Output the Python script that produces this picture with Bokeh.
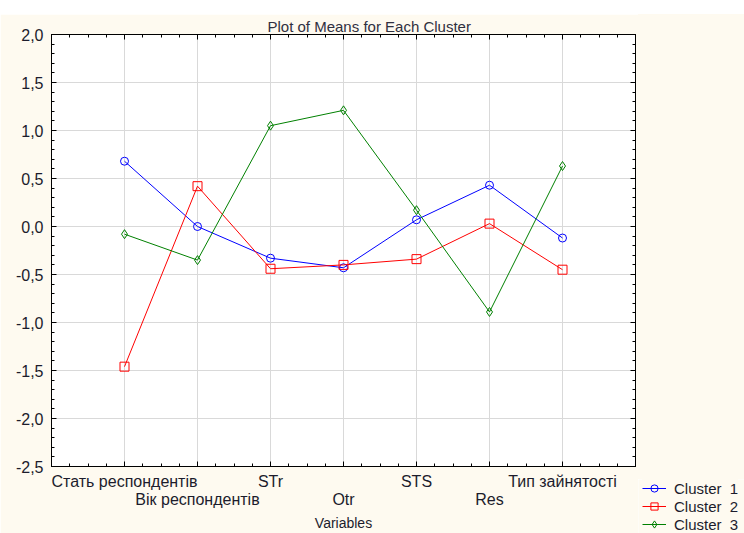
from bokeh.plotting import figure
from bokeh.models import (LinearAxis, FixedTicker, CustomJSTickFormatter, Legend,
                          LegendItem, Title, Range1d, Spacer)
from bokeh.layouts import column, row
from bokeh.embed import file_html
from bokeh.resources import INLINE

# ---------------- data ----------------
variables = ["Стать респондентів", "Вік респондентів", "STr", "Otr", "STS", "Res", "Тип зайнятості"]
cluster1 = [0.68, 0.00, -0.33, -0.43, 0.07, 0.43, -0.12]
cluster2 = [-1.46, 0.42, -0.44, -0.40, -0.34, 0.03, -0.45]
cluster3 = [-0.08, -0.35, 1.05, 1.21, 0.17, -0.89, 0.63]
series_names = ["Cluster  1", "Cluster  2", "Cluster  3"]
y_ticks = [-2.5, -2.0, -1.5, -1.0, -0.5, 0.0, 0.5, 1.0, 1.5, 2.0]
title_text = "Plot of Means for Each Cluster"
x_title = "Variables"

xs = list(range(1, len(variables) + 1))
odd_labels = [v if i % 2 == 0 else "" for i, v in enumerate(variables)]
even_labels = [v if i % 2 == 1 else "" for i, v in enumerate(variables)]

FONT = "Liberation Sans"
TXT = "#1c1c2c"
CREAM = "#FEFAF0"

p = figure(width=638, height=519, x_range=Range1d(0, len(variables) + 1),
           y_range=Range1d(-2.5, 2.0), output_backend="svg", toolbar_location=None,
           min_border_left=51, min_border_right=3, min_border_top=20, min_border_bottom=67)
p.border_fill_color = CREAM
p.background_fill_color = "white"
p.outline_line_color = "black"
p.outline_line_width = 1

p.title = Title(text=title_text, align="left", offset=216, standoff=0,
                text_font=FONT, text_font_size="15px", text_font_style="normal",
                text_color="#303040")

minor_x = [i * 0.25 for i in range(0, 4 * (len(variables) + 1) + 1)]
minor_y = [-2.5 + i * 0.1 for i in range(0, 46)]

def style_ticks(ax):
    ax.axis_line_color = "black"
    ax.major_tick_in = 5
    ax.major_tick_out = 0
    ax.minor_tick_in = 3
    ax.minor_tick_out = 0
    ax.major_tick_line_color = "black"
    ax.minor_tick_line_color = "black"

# x axis (row 1 labels)
xa = p.xaxis[0]
xa.ticker = FixedTicker(ticks=xs, minor_ticks=minor_x)
xa.formatter = CustomJSTickFormatter(args=dict(labels=odd_labels),
                                     code="return labels[Math.round(tick) - 1] || '';")
style_ticks(xa)
xa.major_label_standoff = 6
xa.major_label_text_font = FONT
xa.major_label_text_font_size = "16px"
xa.major_label_text_color = TXT

# second bottom axis (row 2 labels + title)
xa2 = LinearAxis(ticker=FixedTicker(ticks=xs),
                 formatter=CustomJSTickFormatter(args=dict(labels=even_labels),
                                                 code="return labels[Math.round(tick) - 1] || '';"))
xa2.axis_line_color = None
xa2.major_tick_line_color = None
xa2.minor_tick_line_color = None
xa2.major_tick_in = 0
xa2.major_tick_out = 0
xa2.minor_tick_in = 0
xa2.minor_tick_out = 0
xa2.major_label_standoff = -2
xa2.major_label_text_font = FONT
xa2.major_label_text_font_size = "16px"
xa2.major_label_text_color = TXT
xa2.axis_label = x_title
xa2.axis_label_standoff = 4
xa2.axis_label_text_font = FONT
xa2.axis_label_text_font_size = "14px"
xa2.axis_label_text_font_style = "normal"
xa2.axis_label_text_color = TXT
p.add_layout(xa2, "below")

# y axis
ya = p.yaxis[0]
ya.ticker = FixedTicker(ticks=y_ticks, minor_ticks=minor_y)
ya.formatter = CustomJSTickFormatter(code="return tick.toFixed(1).replace('.', ',');")
style_ticks(ya)
ya.major_label_standoff = 8
ya.major_label_text_font = FONT
ya.major_label_text_font_size = "16px"
ya.major_label_text_color = TXT

# top and right axes: ticks only
xt = LinearAxis(ticker=FixedTicker(ticks=xs, minor_ticks=minor_x),
                formatter=CustomJSTickFormatter(code="return '';"))
style_ticks(xt)
xt.major_label_standoff = 0
p.add_layout(xt, "above")
yr = LinearAxis(ticker=FixedTicker(ticks=y_ticks, minor_ticks=minor_y),
                formatter=CustomJSTickFormatter(code="return '';"))
style_ticks(yr)
yr.major_label_standoff = 0
p.add_layout(yr, "right")

p.xgrid.grid_line_color = "#d9d9d9"
p.ygrid.grid_line_color = "#d9d9d9"
p.xgrid.ticker = FixedTicker(ticks=xs)
p.ygrid.ticker = FixedTicker(ticks=y_ticks)

colors = ["#0000FF", "#FF0000", "#008000"]
markers = ["circle", "square", "diamond"]
sizes = [8, 9, 9]
for vals, c, m, s in zip([cluster1, cluster2, cluster3], colors, markers, sizes):
    p.line(xs, vals, line_color=c, line_width=1)
    p.scatter(xs, vals, marker=m, size=s, line_color=c, fill_color=None, line_width=1)

# legend panel (separate small figure so the legend can sit below-right of the frame)
lg = figure(width=106, height=54, x_range=Range1d(-20, -19), y_range=Range1d(-20, -19),
            output_backend="svg", toolbar_location=None, x_axis_location=None,
            y_axis_location=None, min_border=0)
lg.border_fill_color = CREAM
lg.background_fill_color = CREAM
lg.outline_line_color = None
lg.grid.visible = False
items = []
for vals, c, m, name in zip([cluster1, cluster2, cluster3], colors, markers, series_names):
    lr = lg.line(xs, vals, line_color=c, line_width=1)
    sr = lg.scatter(xs, vals, marker=m, size=6, line_color=c, fill_color=None, line_width=1)
    items.append(LegendItem(label=name, renderers=[lr, sr]))
legend = Legend(items=items, location=(4, 0), orientation="vertical",
                background_fill_color=CREAM, background_fill_alpha=1,
                border_line_color=None, padding=0, margin=0, spacing=0,
                label_height=18, glyph_height=18, glyph_width=24, label_standoff=8,
                label_text_font=FONT, label_text_font_size="15px", label_text_color=TXT)
lg.add_layout(legend, "center")

side = column(Spacer(width=106, height=465, styles={"background-color": CREAM}), lg, spacing=0)
layout = column(Spacer(width=744, height=14), row(p, side, spacing=0), spacing=0)
open("out.html", "w").write(file_html(layout, INLINE))
